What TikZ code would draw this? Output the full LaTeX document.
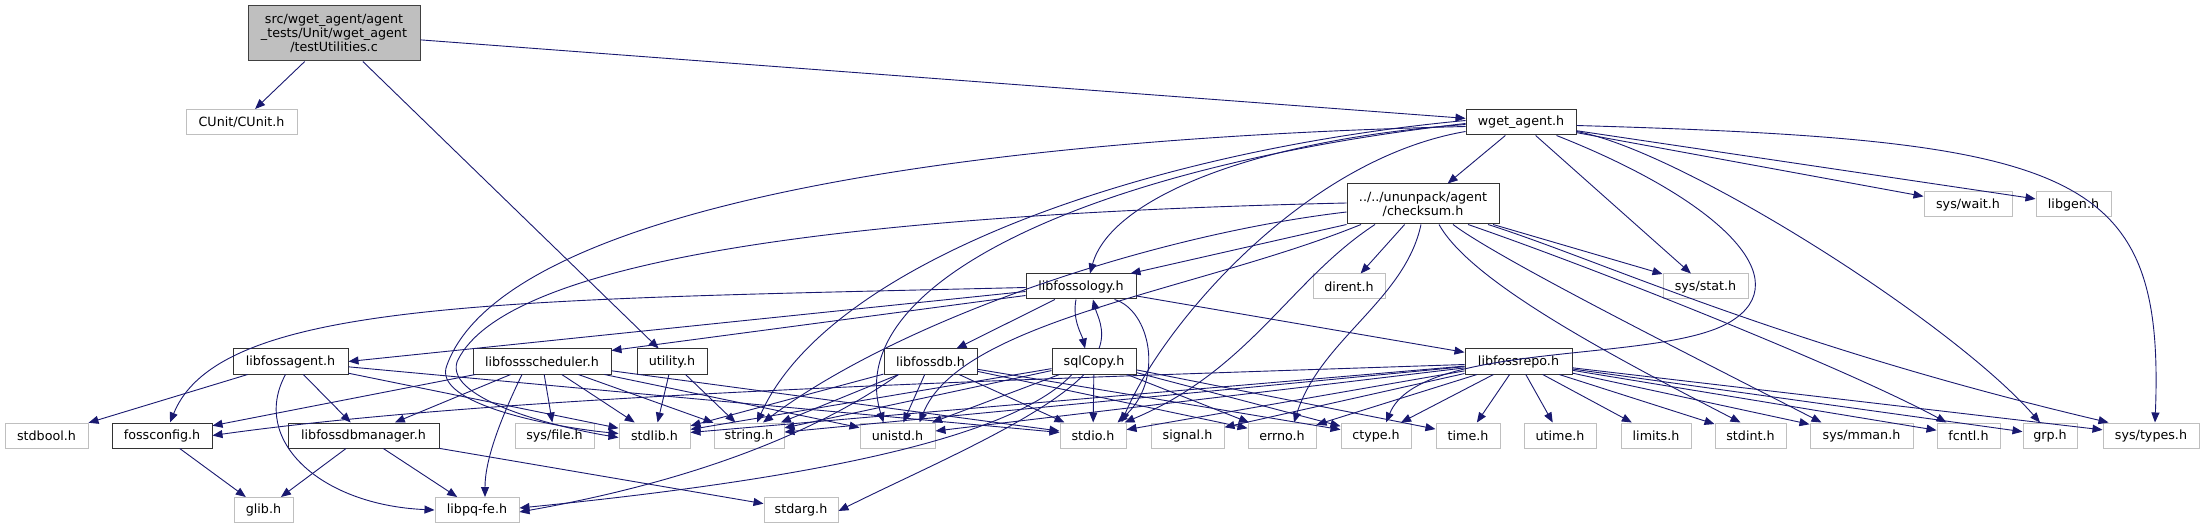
\documentclass[tikz,border=0pt]{standalone}
\usepackage{fontspec}
\setmainfont{DejaVu Sans}
\usetikzlibrary{arrows.meta}
\definecolor{dblue}{HTML}{191970}
\begin{document}
\begin{tikzpicture}[x=1pt,y=-1pt,
  box/.style={rectangle, inner sep=0pt, minimum height=25pt, align=center,
    font=\fontsize{12.7}{14}\selectfont},
  doc/.style={box, draw=black!80, fill=white, line width=1pt},
  ext/.style={box, draw=gray!50, fill=white, line width=1pt},
  rootbox/.style={box, draw=black!75, fill=gray!50, line width=1pt},
  dep/.style={draw=dblue, line width=0.9pt, -{Triangle[length=10pt,width=8pt]}}]
\useasboundingbox (0,0) rectangle (2204,529);
\fill[white] (0,0) rectangle (2204,529);
% ---------- nodes ----------
\node[rootbox, minimum width=172pt, minimum height=55pt] (root) at (334,33.5) {src/wget\_agent/agent\\\_tests/Unit/wget\_agent\\/testUtilities.c};
\node[ext, minimum width=111pt] (cunit) at (241.5,122) {CUnit/CUnit.h};
\node[doc, minimum width=110pt] (wget) at (1521,122.5) {wget\_agent.h};
\node[doc, minimum width=152pt, minimum height=40pt] (checksum) at (1423,204) {../../ununpack/agent\\/checksum.h};
\node[ext, minimum width=88pt] (syswait) at (1968,204.5) {sys/wait.h};
\node[ext, minimum width=75pt] (libgen) at (2073.5,204.5) {libgen.h};
\node[doc, minimum width=110pt] (libfossology) at (1081,286.5) {libfossology.h};
\node[ext, minimum width=72pt] (dirent) at (1349,286.5) {dirent.h};
\node[ext, minimum width=85pt] (sysstat) at (1705.5,286.5) {sys/stat.h};
\node[doc, minimum width=115pt] (libfossagent) at (290.5,361.5) {libfossagent.h};
\node[doc, minimum width=138pt] (libfossscheduler) at (542,361.5) {libfossscheduler.h};
\node[doc, minimum width=70pt] (utility) at (672,361.5) {utility.h};
\node[doc, minimum width=93pt] (libfossdb) at (930.5,361.5) {libfossdb.h};
\node[doc, minimum width=84pt] (sqlcopy) at (1094,361.5) {sqlCopy.h};
\node[doc, minimum width=107pt] (libfossrepo) at (1518.5,361.5) {libfossrepo.h};
\node[ext, minimum width=83pt] (stdbool) at (46.5,435.5) {stdbool.h};
\node[doc, minimum width=100pt] (fossconfig) at (162,435.5) {fossconfig.h};
\node[doc, minimum width=151pt] (libfossdbmanager) at (363.5,435.5) {libfossdbmanager.h};
\node[ext, minimum width=79pt] (sysfile) at (554.5,435.5) {sys/file.h};
\node[ext, minimum width=71pt] (stdlib) at (654.5,435.5) {stdlib.h};
\node[ext, minimum width=70pt] (string) at (749,435.5) {string.h};
\node[ext, minimum width=75pt] (unistd) at (897.5,435.5) {unistd.h};
\node[ext, minimum width=66pt] (stdio) at (1093,435.5) {stdio.h};
\node[ext, minimum width=73pt] (signal) at (1187.5,435.5) {signal.h};
\node[ext, minimum width=68pt] (errno) at (1282,435.5) {errno.h};
\node[ext, minimum width=70pt] (ctype) at (1376,435.5) {ctype.h};
\node[ext, minimum width=64pt] (time) at (1468,435.5) {time.h};
\node[ext, minimum width=72pt] (utime) at (1560,435.5) {utime.h};
\node[ext, minimum width=70pt] (limits) at (1656,435.5) {limits.h};
\node[ext, minimum width=71pt] (stdint) at (1750.5,435.5) {stdint.h};
\node[ext, minimum width=103pt] (sysmman) at (1861.5,435.5) {sys/mman.h};
\node[ext, minimum width=63pt] (fcntl) at (1968.5,435.5) {fcntl.h};
\node[ext, minimum width=54pt] (grp) at (2050,435.5) {grp.h};
\node[ext, minimum width=96pt] (systypes) at (2151,435.5) {sys/types.h};
\node[ext, minimum width=59pt] (glib) at (263.5,510) {glib.h};
\node[ext, minimum width=84pt] (libpqfe) at (477,510) {libpq-fe.h};
\node[ext, minimum width=74pt] (stdarg) at (801,510) {stdarg.h};
% ---------- edges ----------
% root
\draw[dep] (root) -- (cunit);
\draw[dep] (root) -- (utility);
\draw[dep] (root) -- (wget);
% utility
\draw[dep] (utility) -- (stdlib);
\draw[dep] (utility) -- (string);
% wget_agent.h
\draw[dep] (wget) -- (checksum);
\draw[dep] (wget) -- (sysstat);
\draw[dep] (wget) -- (syswait);
\draw[dep] (wget) -- (libgen);
\draw[dep] ([yshift=-3pt]wget.east) .. controls (2080,140) and (2165,170) .. ([xshift=4pt]systypes.north);
\draw[dep] ([yshift=-9pt]wget.east) .. controls (1680,150) and (1950,320) .. ([xshift=-10pt]grp.north);
\draw[dep] ([xshift=-20pt]wget.south east) .. controls (1720,200) and (1800,280) .. (1730,322) .. controls (1660,364) and (1420,340) .. ([xshift=10pt]ctype.north);
\draw[dep] ([yshift=-2pt]wget.west) .. controls (1250,140) and (1110,200) .. ([xshift=9pt]libfossology.north);
\draw[dep] ([yshift=-9pt]wget.west) .. controls (1300,160) and (1160,330) .. ([xshift=-5pt]stdio.north east);
\draw[dep] ([yshift=2pt]wget.west) .. controls (1150,150) and (830,260) .. ([xshift=8pt]string.north);
\draw[dep] ([yshift=-1pt]wget.west) .. controls (1100,165) and (840,280) .. ([xshift=-14pt]unistd.north);
\draw[dep] ([yshift=-4pt]wget.west) .. controls (900,140) and (500,220) .. (447,365) .. controls (430,405) and (560,428) .. ([yshift=2pt]stdlib.west);
% checksum.h
\draw[dep] ([yshift=1pt]checksum.west) .. controls (950,212) and (510,245) .. (457,362) .. controls (445,400) and (560,428) .. ([yshift=-2pt]stdlib.west);
\draw[dep] ([yshift=-8pt]checksum.west) .. controls (1150,235) and (900,320) .. ([xshift=14pt]string.north);
\draw[dep] (checksum.south west) -- ([xshift=-6pt]libfossology.north east);
\draw[dep] (checksum) -- (dirent);
\draw[dep] (checksum) -- (sysstat);
\draw[dep] ([xshift=-62pt]checksum.south) .. controls (1200,290) and (960,320) .. ([xshift=22pt]unistd.north);
\draw[dep] ([xshift=-48pt]checksum.south) .. controls (1290,280) and (1250,370) .. ([xshift=-2pt]stdio.north east);
\draw[dep] ([xshift=-2pt]checksum.south) .. controls (1405,300) and (1320,340) .. ([xshift=12pt]errno.north);
\draw[dep] ([xshift=16pt]checksum.south) .. controls (1470,280) and (1600,350) .. ([xshift=-10pt]stdint.north);
\draw[dep] ([xshift=30pt]checksum.south) .. controls (1500,260) and (1700,360) .. ([xshift=-40pt]sysmman.north);
\draw[dep] ([xshift=45pt]checksum.south) .. controls (1600,270) and (1850,370) .. ([xshift=-22pt]fcntl.north);
\draw[dep] ([xshift=65pt]checksum.south) .. controls (1600,260) and (1780,345) .. ([xshift=6pt]systypes.north west);
% libfossology.h
\draw[dep] ([yshift=-1pt]libfossology.west) .. controls (500,300) and (220,300) .. ([xshift=8pt]fossconfig.north);
\draw[dep] ([yshift=-5pt]libfossology.west) -- (libfossagent.east);
\draw[dep] ([yshift=-9pt]libfossology.west) -- ([yshift=-2pt]libfossscheduler.north east);
\draw[dep] (libfossology) -- (libfossdb);
\draw[dep] ([xshift=-5pt]libfossology.south) .. controls (1072,320) and (1082,335) .. ([xshift=-9pt]sqlcopy.north);
\draw[dep] ([xshift=5pt]sqlcopy.north) .. controls (1106,330) and (1097,315) .. ([xshift=12pt]libfossology.south);
\draw[dep] (libfossology) -- (libfossrepo);
\draw[dep] ([xshift=-22pt]libfossology.south east) .. controls (1150,310) and (1165,380) .. ([xshift=-9pt]stdio.north east);
% sqlCopy.h
\draw[dep] (sqlcopy) -- (stdio);
\draw[dep] ([xshift=-10pt]sqlcopy.south) .. controls (1040,420) and (920,470) .. ([yshift=-1pt]stdarg.east);
\draw[dep] ([xshift=-22pt]sqlcopy.south) .. controls (1010,440) and (800,480) .. ([yshift=2pt]libpqfe.east);
\draw[dep] (sqlcopy) -- (unistd);
\draw[dep] (sqlcopy) -- (string);
\draw[dep] (sqlcopy) -- (stdlib);
\draw[dep] (sqlcopy) -- (ctype);
\draw[dep] (sqlcopy) -- (time);
\draw[dep] (sqlcopy) -- (errno);
% libfossdb.h
\draw[dep] (libfossdb) -- (stdio);
\draw[dep] (libfossdb) -- (unistd);
\draw[dep] (libfossdb) -- (string);
\draw[dep] (libfossdb) -- (stdlib);
\draw[dep] (libfossdb) -- (errno);
\draw[dep] (libfossdb) -- (ctype);
\draw[dep] ([xshift=-32pt]libfossdb.south) .. controls (820,430) and (700,480) .. ([yshift=-2pt]libpqfe.east);
% libfossrepo.h
\draw[dep] (libfossrepo) -- (time);
\draw[dep] (libfossrepo) -- (utime);
\draw[dep] (libfossrepo) -- (limits);
\draw[dep] (libfossrepo) -- (stdint);
\draw[dep] (libfossrepo) -- (sysmman);
\draw[dep] (libfossrepo) -- (fcntl);
\draw[dep] (libfossrepo) -- (grp);
\draw[dep] (libfossrepo) -- (systypes);
\draw[dep] (libfossrepo) -- (ctype);
\draw[dep] (libfossrepo) -- (stdio);
\draw[dep] (libfossrepo) -- (unistd);
\draw[dep] (libfossrepo) -- (string);
\draw[dep] (libfossrepo) -- (stdlib);
\draw[dep] (libfossrepo) -- (signal);
\draw[dep] (libfossrepo) -- (errno);
\draw[dep] ([yshift=-3pt]libfossrepo.west) .. controls (1000,380) and (500,395) .. (fossconfig.east);
% libfossscheduler.h
\draw[dep] (libfossscheduler) -- (fossconfig);
\draw[dep] (libfossscheduler) -- (libfossdbmanager);
\draw[dep] ([xshift=-20pt]libfossscheduler.south) .. controls (500,420) and (485,460) .. ([xshift=8pt]libpqfe.north);
\draw[dep] (libfossscheduler) -- (sysfile);
\draw[dep] (libfossscheduler) -- (stdlib);
\draw[dep] (libfossscheduler) -- (string);
\draw[dep] (libfossscheduler) -- (unistd);
\draw[dep] (libfossscheduler) -- (stdio);
% libfossagent.h
\draw[dep] (libfossagent) -- (stdbool);
\draw[dep] ([xshift=-5pt]libfossagent.south) .. controls (250,440) and (320,505) .. (libpqfe.west);
\draw[dep] (libfossagent) -- (libfossdbmanager);
\draw[dep] (libfossagent) -- (stdlib);
\draw[dep] (libfossagent) -- (stdio);
% libfossdbmanager.h
\draw[dep] (libfossdbmanager) -- (glib);
\draw[dep] (libfossdbmanager) -- (libpqfe);
\draw[dep] (libfossdbmanager) -- (stdarg);
% fossconfig.h
\draw[dep] (fossconfig) -- (glib);
\end{tikzpicture}
\end{document}
